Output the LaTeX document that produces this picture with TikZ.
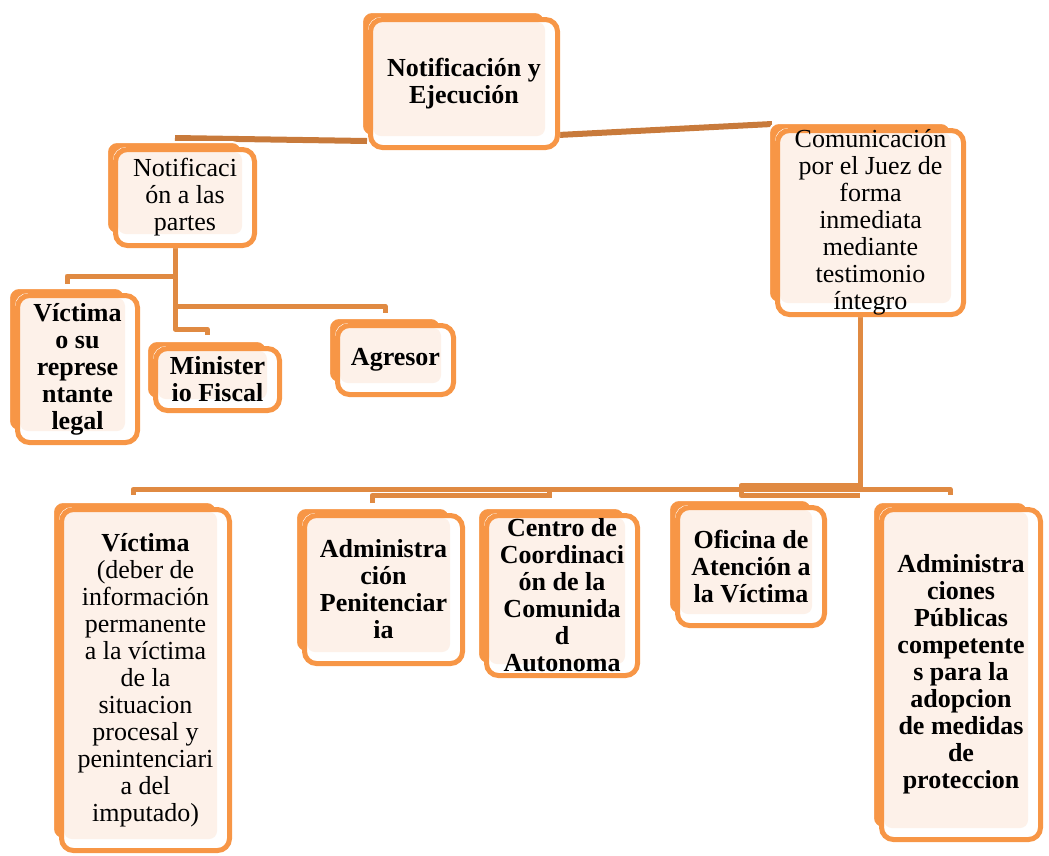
\documentclass[tikz,border=0pt]{standalone}
\usepackage{fontspec}
\setmainfont{Liberation Serif}
\usetikzlibrary{calc}
\pgfdeclarelayer{connectors}
\pgfsetlayers{connectors,main}
\definecolor{boxorange}{HTML}{F79646}
\definecolor{boxcream}{HTML}{FDF1E9}
\definecolor{linkorange}{HTML}{E08A42}
\definecolor{linkbrown}{HTML}{C87A3B}
\tikzset{
  backcard/.style={fill=boxorange, draw=white, line width=2, rounded corners=10},
  cardbase/.style={fill=white, rounded corners=13},
  cardcream/.style={fill=boxcream, rounded corners=8},
  cardframe/.style={draw=boxorange, line width=5, rounded corners=12, inner sep=0pt, outer sep=0pt},
  cardtext/.style={align=center, font=\fontsize{26}{27}\selectfont, inner sep=0pt},
  boldtext/.style={font=\fontsize{26}{27}\selectfont\bfseries},
  link/.style={draw=linkorange, line width=5, line join=round},
  toplink/.style={draw=linkbrown, line width=6},
}
% card: #1 extra text options, #2 name, (#3,#4)-(#5,#6) outer corners of the front frame, #7 text
\newcommand\orgcard[7][]{%
  \path[backcard] ({#3-6},{#4-5}) rectangle ({#5-15},{#6-14});
  \fill[cardbase] (#3,#4) rectangle (#5,#6);
  \fill[cardcream] ({#3+5},{#4+5}) rectangle ({#5-15},{#6-14});
  \node[cardframe, minimum width={#5-#3-5}, minimum height={#6-#4-5}]
    (#2) at ({(#3+#5)/2},{(#4+#6)/2}) {};
  \node[cardtext, #1] (#2-txt) at (#2.center) {#7};
}
\begin{document}
\begin{tikzpicture}[x=1pt,y=-1pt]
\useasboundingbox (0,0) rectangle (1049,855);

\orgcard[boldtext]{top}{368}{17}{560}{150}{Notificación y\\Ejecución}
\orgcard{partes}{113}{147}{257}{248}{Notificaci\\ón a las\\partes}
\orgcard{comm}{775}{128}{966}{317}{Comunicación\\por el Juez de\\forma\\inmediata\\mediante\\testimonio\\íntegro}

\orgcard[boldtext]{vrep}{15}{293}{140}{445}{Víctima\\o su\\represe\\ntante\\legal}
\orgcard[boldtext]{min}{153}{346}{282}{413}{Minister\\io Fiscal}
\orgcard[boldtext]{agr}{335}{323}{456}{397}{Agresor}

\orgcard{vic}{59}{507}{232}{853}{\textbf{Víctima}\\(deber de\\información\\permanente\\a la víctima\\de la\\situacion\\procesal y\\penintenciari\\a del\\imputado)}
\orgcard[boldtext]{pen}{302}{513}{465}{666}{Administra\\ción\\Penitenciar\\ia}
\orgcard[boldtext]{cen}{484}{513}{640}{678}{Centro de\\Coordinaci\\ón de la\\Comunida\\d\\Autonoma}
\orgcard[boldtext]{ofi}{675}{505}{827}{628}{Oficina de\\Atención a\\la Víctima}
\orgcard[boldtext]{pub}{879}{507}{1043}{842}{Administra\\ciones\\Públicas\\competente\\s para la\\adopcion\\de medidas\\de\\proteccion}

\begin{pgfonlayer}{connectors}
  % first level
  \draw[toplink] ([shift={(-10,-11.5)}]partes.north) -- ([shift={(-3.5,-6.5)}]top.south west);
  \draw[toplink] ([shift={(0.5,-12.5)}]top.south east) -- ([shift={(-5.5,-6.5)}]comm.north west);
  % parties
  \coordinate (ptrunk) at ([xshift=-10]partes.south);
  \draw[link] (ptrunk) |- ([shift={(-10.5,-19.5)}]vrep.north) -- ([shift={(-10.5,-11.5)}]vrep.north);
  \draw[link] (ptrunk) |- ([shift={(-10.5,-19.5)}]agr.north) -- ([shift={(-10.5,-12.5)}]agr.north);
  \draw[link] (ptrunk) |- ([shift={(-10.5,-19.5)}]min.north) -- ([shift={(-10.5,-13.5)}]min.north);
  % institutions
  \coordinate (ctrunk) at ([xshift=-10]comm.south);
  \draw[link] (ctrunk) |- ([shift={(-12.5,-20)}]vic.north) -- ([shift={(-12.5,-14.5)}]vic.north);
  \draw[link] (ctrunk) |- ([shift={(-13,-26)}]cen.north) -- ([shift={(-13,-17.5)}]cen.north);
  \draw[link] ([shift={(-13,-20)}]cen.north) |- ([shift={(-11.5,-20)}]pen.north) -- ([shift={(-11.5,-12.5)}]pen.north);
  \draw[link] (ctrunk) |- ([shift={(-10,-22)}]ofi.north) -- ([shift={(-10,-12)}]ofi.north) -- ([shift={(109,-12)}]ofi.north);
  \draw[link] (ctrunk) |- ([shift={(-11,-20.5)}]pub.north) -- ([shift={(-11,-14.5)}]pub.north);
\end{pgfonlayer}
\end{tikzpicture}
\end{document}
